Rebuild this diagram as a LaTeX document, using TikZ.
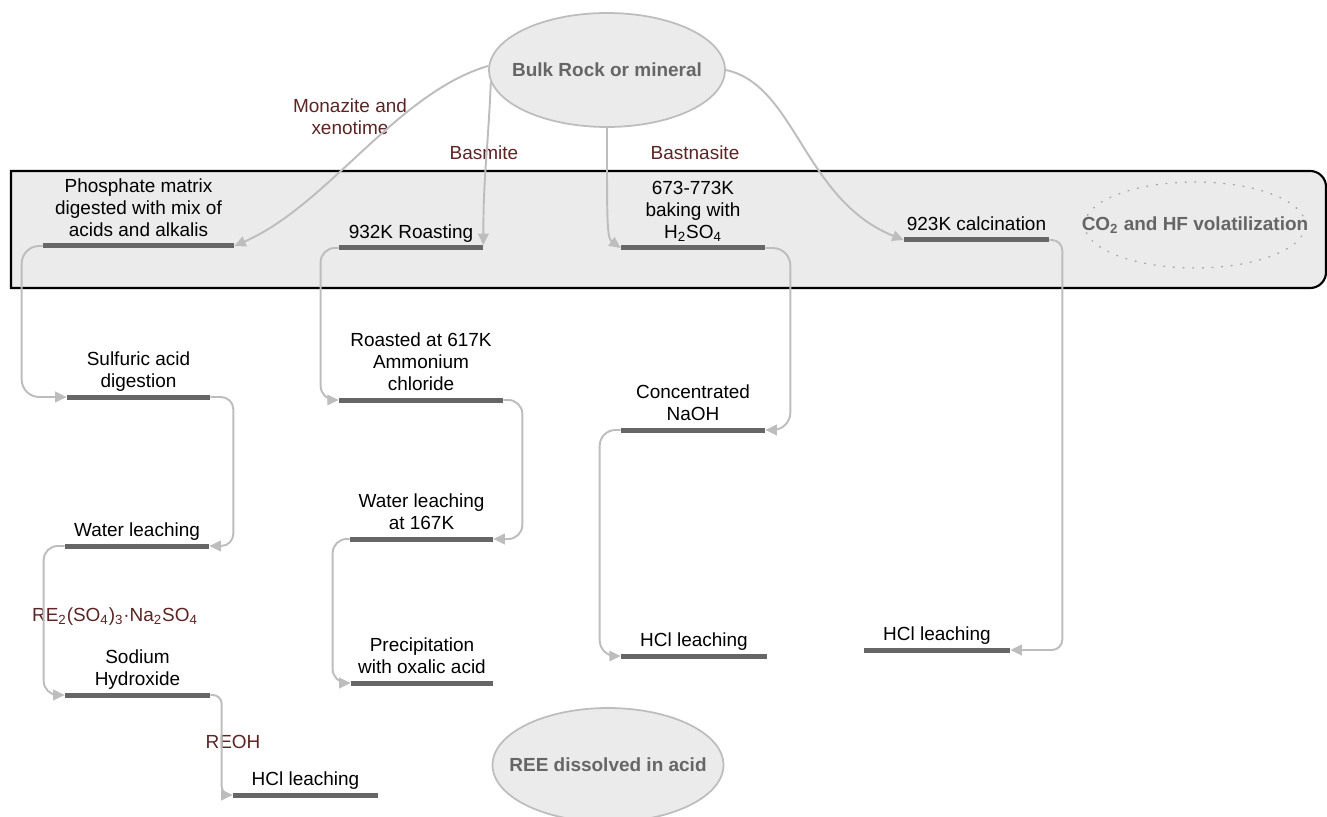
\documentclass[tikz,border=0pt]{standalone}
\usepackage{fontspec}
\setmainfont{Liberation Sans}
\usetikzlibrary{arrows.meta,positioning,calc,shapes.geometric}
\definecolor{bandgray}{HTML}{EBEBEB}
\definecolor{bargray}{HTML}{666666}
\definecolor{linkgray}{HTML}{BDBDBD}
\definecolor{mineral}{HTML}{5C2424}

\begin{document}
\begin{tikzpicture}[x=0.02cm, y=-0.02cm,
  every node/.style={font=\fontsize{10.8}{12.5}\selectfont},
  blob/.style={ellipse, draw=linkgray, line width=1pt, fill=bandgray,
               minimum width=4.72cm, minimum height=2.28cm, inner xsep=-20pt,
               inner ysep=0pt, text=bargray,
               font=\fontsize{10.8}{12.5}\selectfont\bfseries},
  bar/.style={fill=bargray, inner sep=0pt, minimum height=0.1cm,
              minimum width=#1},
  stxt/.style={align=center, inner sep=1pt, text depth=2.4pt},
  ore/.style={align=center, text=mineral},
  flow/.style={-{Triangle[length=6.5pt,width=6pt]}, linkgray,
               line width=1.1pt, rounded corners=#1},
  flow/.default=9pt
]
\useasboundingbox (0,0) rectangle (1327,817);

% furnace band
\draw[line width=1.2pt, fill=bandgray] (11,288) -- (11,171)
  [rounded corners=9pt] -- (1326,171) -- (1326,288) [sharp corners] -- cycle;

\node[blob] (bulk) at (607,70) {Bulk Rock or mineral};
\node[blob, minimum width=4.62cm] (ree) at (608,765) {REE dissolved in acid};
\node[ellipse, draw=gray!70, dash pattern=on 0.5pt off 5pt, line cap=round,
      line width=0.8pt, minimum width=4.4cm, minimum height=1.72cm,
      inner xsep=-20pt, inner ysep=0pt, text=bargray,
      font=\fontsize{10.8}{12.5}\selectfont\bfseries] (vol) at (1195,225)
  {CO\textsubscript{2} and HF volatilization};

% steps
\node[bar=3.82cm] (phos) at (138.5,246) {};
\node[stxt, above=0pt of phos] (phost)
  {Phosphate matrix\\digested with mix of\\acids and alkalis};
\node[bar=2.88cm] (roast) at (411,248) {};
\node[stxt, above=0pt of roast] (roastt) {932K Roasting};
\node[bar=2.88cm] (acid) at (693,248) {};
\node[stxt, above=0pt of acid] (acidt)
  {673-773K\\baking with\\H\textsubscript{2}SO\textsubscript{4}};
\node[bar=2.9cm] (calc) at (976.5,240) {};
\node[stxt, above=0pt of calc] (calct) {923K calcination};

\node[bar=2.86cm] (sulf) at (138.5,397) {};
\node[stxt, above=0pt of sulf] (sulft) {Sulfuric acid\\digestion};
\node[bar=3.28cm] (amm) at (421,400) {};
\node[stxt, above=0pt of amm] (ammt) {Roasted at 617K\\Ammonium\\chloride};
\node[bar=2.88cm] (naoh) at (693,430) {};
\node[stxt, above=0pt of naoh] (naoht) {Concentrated\\NaOH};

\node[bar=2.88cm] (water) at (137,546) {};
\node[stxt, above=0pt of water] (watert) {Water leaching};
\node[bar=2.86cm] (leach) at (421.5,539) {};
\node[stxt, above=0pt of leach] (leacht) {Water leaching\\at 167K};

\node[bar=2.9cm] (sodium) at (137.5,695) {};
\node[stxt, above=0pt of sodium] (sodiumt) {Sodium\\Hydroxide};
\node[bar=2.84cm] (prec) at (422,683) {};
\node[stxt, above=0pt of prec] (prect) {Precipitation\\with oxalic acid};
\node[bar=2.92cm] (hclc) at (694,656) {};
\node[stxt, above=0pt of hclc] (hclct) {HCl leaching};
\node[bar=2.92cm] (hcld) at (937,650) {};
\node[stxt, above=0pt of hcld] (hcldt) {HCl leaching};
\node[bar=2.9cm] (hcla) at (305.5,795) {};
\node[stxt, above=0pt of hcla] (hclat) {HCl leaching};

% ore labels
\node[ore] (lmon) at (350,117) {Monazite and\\xenotime};
\node[ore] (lbas) at (484,153) {Basmite};
\node[ore] (lbast) at (695,153) {Bastnasite};
\node[ore] (lsulf) at (115,617)
  {RE\textsubscript{2}(SO\textsubscript{4})\textsubscript{3}·Na\textsubscript{2}SO\textsubscript{4}};
\node[ore] (lreoh) at (233,742) {REOH};

% from the ore
\draw[flow] (bulk.178) .. controls +(-92,27) and +(94,-41) .. (phos.east);
\draw[flow] (bulk.186) .. controls +(-3,70) and +(0,-70) .. (roast.north east);
\draw[flow] (bulk.south) .. controls +(0,90) and +(-14,-10) .. (acid.west);
\draw[flow] (bulk.east) .. controls +(70,15) and +(-100,-40) .. (calc.west);

% process chains
\draw[flow=10pt] (phos.west) -| ($(sulf.west)+(-45,0)$) -- (sulf.west);
\draw[flow=7pt] (sulf.east) -| ($(water.east)+(24,0)$) -- (water.east);
\draw[flow=8pt] (water.west) -| ($(sodium.west)+(-21,0)$) -- (sodium.west);
\draw[flow=5pt] (sodium.east) -| ($(hcla.west)+(-11,0)$) -- (hcla.west);
\draw[flow=8pt] (roast.west) -| ($(amm.west)+(-18,0)$) -- (amm.west);
\draw[flow=8pt] (amm.east) -| ($(leach.east)+(29,0)$) -- (leach.east);
\draw[flow=8pt] (leach.west) -| ($(prec.west)+(-18,0)$) -- (prec.west);
\draw[flow=10pt] (acid.east) -| ($(naoh.east)+(25,0)$) -- (naoh.east);
\draw[flow=9pt] (naoh.west) -| ($(hclc.west)+(-21,0)$) -- (hclc.west);
\draw[flow=6pt] (calc.east) -| ($(hcld.east)+(52,0)$) -- (hcld.east);
\end{tikzpicture}
\end{document}
